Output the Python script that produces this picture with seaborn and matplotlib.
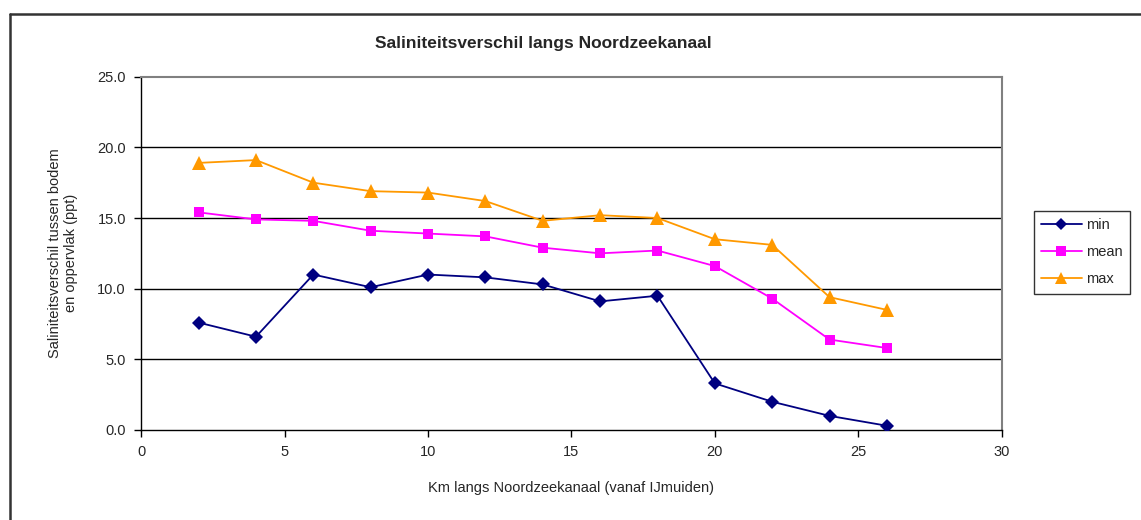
# Salinity difference along the Noordzeekanaal
import pandas as pd
import matplotlib.pyplot as plt
import seaborn as sns
from matplotlib.lines import Line2D

# Data
km = [2, 4, 6, 8, 10, 12, 14, 16, 18, 20, 22, 24, 26]
sal_min = [7.6, 6.6, 11.0, 10.1, 11.0, 10.8, 10.3, 9.1, 9.5, 3.3, 2.0, 1.0, 0.3]
sal_mean = [15.4, 14.9, 14.8, 14.1, 13.9, 13.7, 12.9, 12.5, 12.7, 11.6, 9.3, 6.4, 5.8]
sal_max = [18.9, 19.1, 17.5, 16.9, 16.8, 16.2, 14.8, 15.2, 15.0, 13.5, 13.1, 9.4, 8.5]
series = ['min', 'mean', 'max']

df = pd.DataFrame({'km': km, 'min': sal_min, 'mean': sal_mean, 'max': sal_max})
long_df = pd.melt(df, id_vars=['km'], value_vars=series, var_name='serie', value_name='value')

sns.set_style('white')
plt.rcParams['font.family'] = ['Liberation Sans', 'DejaVu Sans']

fig = plt.figure(figsize=(11.41, 5.2), dpi=100)
ax = fig.add_axes([0.1238, 0.1731, 0.754, 0.6794])

palette = {'min': '#000080', 'mean': '#FF00FF', 'max': '#FF9900'}
markers = {'min': 'D', 'mean': 's', 'max': '^'}
msize = {'min': 7, 'mean': 7.5, 'max': 9.5}
sns.lineplot(data=long_df, x='km', y='value', hue='serie', style='serie',
             palette=palette, markers=markers, dashes=False, markersize=7,
             markeredgewidth=0, linewidth=1.3, ax=ax, zorder=3, legend=False)
for line, name in zip(ax.lines, series):
    line.set_markersize(msize[name])

# Gridlines and axes
ax.set_xlim(0, 30)
ax.set_ylim(0, 25)
ax.set_xticks(range(0, 31, 5))
ax.set_yticks([0, 5, 10, 15, 20, 25])
ax.set_yticklabels([f'{v:.1f}' for v in [0, 5, 10, 15, 20, 25]])
for v in [5, 10, 15, 20]:
    ax.axhline(v, color='black', linewidth=1.0, zorder=1)
for side in ['top', 'right']:
    ax.spines[side].set_color('#808080')
    ax.spines[side].set_linewidth(1.5)
for side in ['left', 'bottom']:
    ax.spines[side].set_color('black')
    ax.spines[side].set_linewidth(1.0)
ax.tick_params(axis='both', direction='out', length=5, width=1, color='black',
               labelsize=10.5, pad=6, left=True, bottom=True)

ax.set_xlabel('Km langs Noordzeekanaal (vanaf IJmuiden)', fontsize=10.5, labelpad=16)
ax.set_ylabel('Saliniteitsverschil tussen bodem\nen oppervlak (ppt)', fontsize=10.5, labelpad=14)
fig.text(0.476, 0.917, 'Saliniteitsverschil langs Noordzeekanaal', fontsize=12.5,
         fontweight='bold', ha='center', va='center')

# Legend at the right, boxed
handles = [Line2D([], [], color=palette[s], marker=markers[s], markersize=msize[s] - 0.5,
                  markeredgewidth=0, linewidth=1.3) for s in series]
leg = fig.legend(handles, series, loc='center left', bbox_to_anchor=(0.8995, 0.515),
                 frameon=True, fancybox=False, fontsize=10.5, handlelength=2.8,
                 labelspacing=0.9, borderpad=0.5, handletextpad=0.3)
leg.get_frame().set_edgecolor('black')
leg.get_frame().set_linewidth(1.0)

# Outer chart border (only top and left are visible)
fig.add_artist(Line2D([10 / 1141, 1], [1 - 14 / 520, 1 - 14 / 520],
                      transform=fig.transFigure, color='#333333', linewidth=1.8))
fig.add_artist(Line2D([10 / 1141, 10 / 1141], [0, 1 - 14 / 520],
                      transform=fig.transFigure, color='#333333', linewidth=1.8))

plt.savefig('out.png', dpi=100)
